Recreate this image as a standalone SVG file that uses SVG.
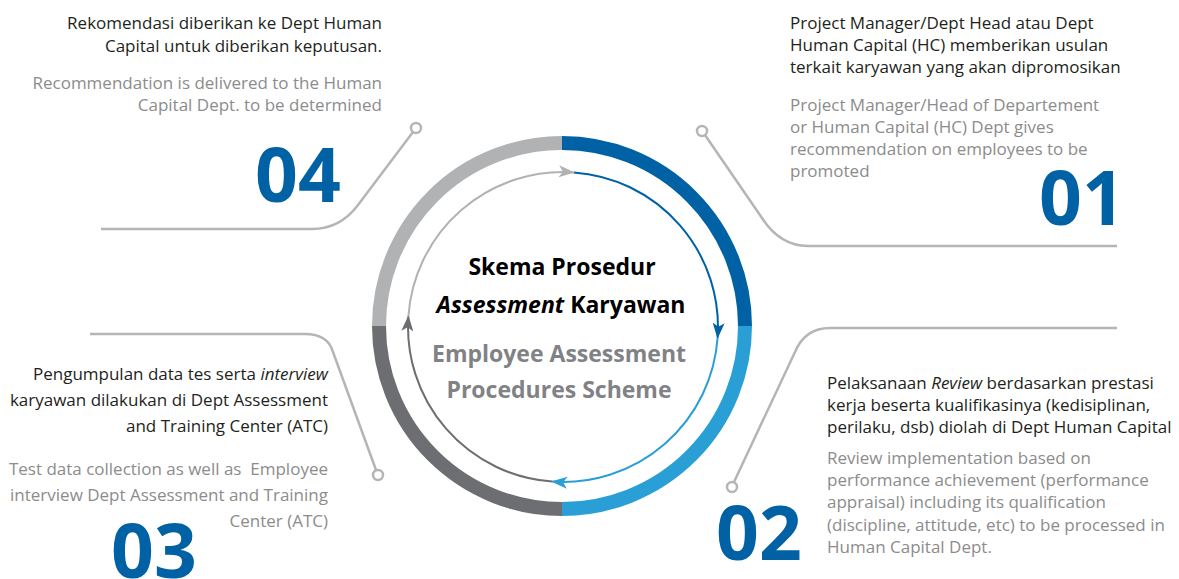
<svg xmlns="http://www.w3.org/2000/svg" width="1179" height="579" viewBox="0 0 1179 579">
<style>
  .blk { font-family: "Open Sans", "Liberation Sans", sans-serif; font-size: 17px; fill: #231f20; }
  .gry { font-family: "Open Sans", "Liberation Sans", sans-serif; font-size: 17px; fill: #8c8c8c; }
  .num { font-family: "Open Sans", "Liberation Sans", sans-serif; font-size: 75px; font-weight: bold; fill: #0062a5; }
  .ttl { font-family: "Open Sans", "Liberation Sans", sans-serif; font-size: 23px; font-weight: bold; text-anchor: middle; }
  .conn { fill: none; stroke: #b5b5b5; stroke-width: 2.5; }
  .dot { fill: #ffffff; stroke: #b5b5b5; stroke-width: 2.5; }
  .ring { fill: none; stroke-width: 14; }
  .cyc { fill: none; stroke-width: 2; }
  .end { text-anchor: end; }
</style>
<defs>
  <marker id="ah-db" markerUnits="userSpaceOnUse" viewBox="0 0 16 12" markerWidth="16" markerHeight="12" refX="15" refY="6" orient="auto"><path d="M0,0 L16,6 L0,12 L4,6 Z" fill="#0062a5"/></marker>
  <marker id="ah-lb" markerUnits="userSpaceOnUse" viewBox="0 0 16 12" markerWidth="16" markerHeight="12" refX="15" refY="6" orient="auto"><path d="M0,0 L16,6 L0,12 L4,6 Z" fill="#2a9fd6"/></marker>
  <marker id="ah-dg" markerUnits="userSpaceOnUse" viewBox="0 0 16 12" markerWidth="16" markerHeight="12" refX="15" refY="6" orient="auto"><path d="M0,0 L16,6 L0,12 L4,6 Z" fill="#6d6e71"/></marker>
  <marker id="ah-lg" markerUnits="userSpaceOnUse" viewBox="0 0 16 12" markerWidth="16" markerHeight="12" refX="15" refY="6" orient="auto"><path d="M0,0 L16,6 L0,12 L4,6 Z" fill="#b1b2b4"/></marker>
</defs>
<rect width="1179" height="579" fill="#ffffff"/>

<g id="connectors">
  <path class="conn" d="M413,132 L358,205 Q340,229 312,229 L101,229"/>
  <circle class="dot" cx="416" cy="128" r="5"/>
  <path class="conn" d="M705,135 L762,218 Q780,246 808,246 L1117,246"/>
  <circle class="dot" cx="702" cy="131" r="5"/>
  <path class="conn" d="M1117,328 L830,328 Q805,328 795,352 L734,482"/>
  <circle class="dot" cx="732" cy="487" r="5"/>
  <path class="conn" d="M90,334 L305,334 Q328,334 333,352 L376,470"/>
  <circle class="dot" cx="378" cy="475" r="5"/>
</g>

<g id="ring">
  <path class="ring" stroke="#0062a5" d="M562,143 A183,183 0 0 1 745,326"/>
  <path class="ring" stroke="#2a9fd6" d="M745,326 A183,183 0 0 1 562,509"/>
  <path class="ring" stroke="#6d6e71" d="M562,509 A183,183 0 0 1 379,326"/>
  <path class="ring" stroke="#b1b2b4" d="M379,326 A183,183 0 0 1 562,143"/>
</g>

<g id="cycle">
  <path class="cyc" stroke="#0062a5" marker-end="url(#ah-db)" d="M573.8,172.4 A155,155 0 0 1 717.6,337.8"/>
  <path class="cyc" stroke="#2a9fd6" marker-end="url(#ah-lb)" d="M717.6,337.8 A155,155 0 0 1 552.2,481.6"/>
  <path class="cyc" stroke="#6d6e71" marker-end="url(#ah-dg)" d="M552.2,481.6 A155,155 0 0 1 408.4,316.2"/>
  <path class="cyc" stroke="#b1b2b4" marker-end="url(#ah-lg)" d="M408.4,316.2 A155,155 0 0 1 573.8,172.4"/>
</g>

<g id="center-title">
  <text class="ttl" x="562" y="275" fill="#000000">Skema Prosedur</text>
  <text class="ttl" x="561" y="313" fill="#000000"><tspan font-style="italic">Assessment</tspan> Karyawan</text>
  <text class="ttl" x="559" y="362" fill="#808285">Employee Assessment</text>
  <text class="ttl" x="559" y="398" fill="#808285">Procedures Scheme</text>
</g>

<g id="node-01">
  <text class="blk" x="790" y="29">Project Manager/Dept Head atau Dept</text>
  <text class="blk" x="790" y="51">Human Capital (HC) memberikan usulan</text>
  <text class="blk" x="790" y="73">terkait karyawan yang akan dipromosikan</text>
  <text class="gry" x="790" y="111">Project Manager/Head of Departement</text>
  <text class="gry" x="790" y="133">or Human Capital (HC) Dept gives</text>
  <text class="gry" x="790" y="155">recommendation on employees to be</text>
  <text class="gry" x="790" y="177">promoted</text>
  <text class="num" x="1039" y="225">01</text>
</g>

<g id="node-02">
  <text class="blk" x="827" y="389">Pelaksanaan <tspan font-style="italic">Review</tspan> berdasarkan prestasi</text>
  <text class="blk" x="827" y="411">kerja beserta kualifikasinya (kedisiplinan,</text>
  <text class="blk" x="827" y="433">perilaku, dsb) diolah di Dept Human Capital</text>
  <text class="gry" x="827" y="464">Review implementation based on</text>
  <text class="gry" x="827" y="486">performance achievement (performance</text>
  <text class="gry" x="827" y="508">appraisal) including its qualification</text>
  <text class="gry" x="827" y="531">(discipline, attitude, etc) to be processed in</text>
  <text class="gry" x="827" y="553">Human Capital Dept.</text>
  <text class="num" x="716" y="560">02</text>
</g>

<g id="node-03">
  <text class="blk end" x="328" y="380">Pengumpulan data tes serta <tspan font-style="italic">interview</tspan></text>
  <text class="blk end" x="328" y="406">karyawan dilakukan di Dept Assessment</text>
  <text class="blk end" x="328" y="432">and Training Center (ATC)</text>
  <text class="gry end" x="328" y="475" xml:space="preserve">Test data collection as well as  Employee</text>
  <text class="gry end" x="328" y="501">interview Dept Assessment and Training</text>
  <text class="gry end" x="328" y="527">Center (ATC)</text>
  <text class="num" x="111" y="578">03</text>
</g>

<g id="node-04">
  <text class="blk end" x="382" y="29">Rekomendasi diberikan ke Dept Human</text>
  <text class="blk end" x="382" y="52">Capital untuk diberikan keputusan.</text>
  <text class="gry end" x="382" y="89">Recommendation is delivered to the Human</text>
  <text class="gry end" x="382" y="111">Capital Dept. to be determined</text>
  <text class="num" x="255" y="202">04</text>
</g>
</svg>
